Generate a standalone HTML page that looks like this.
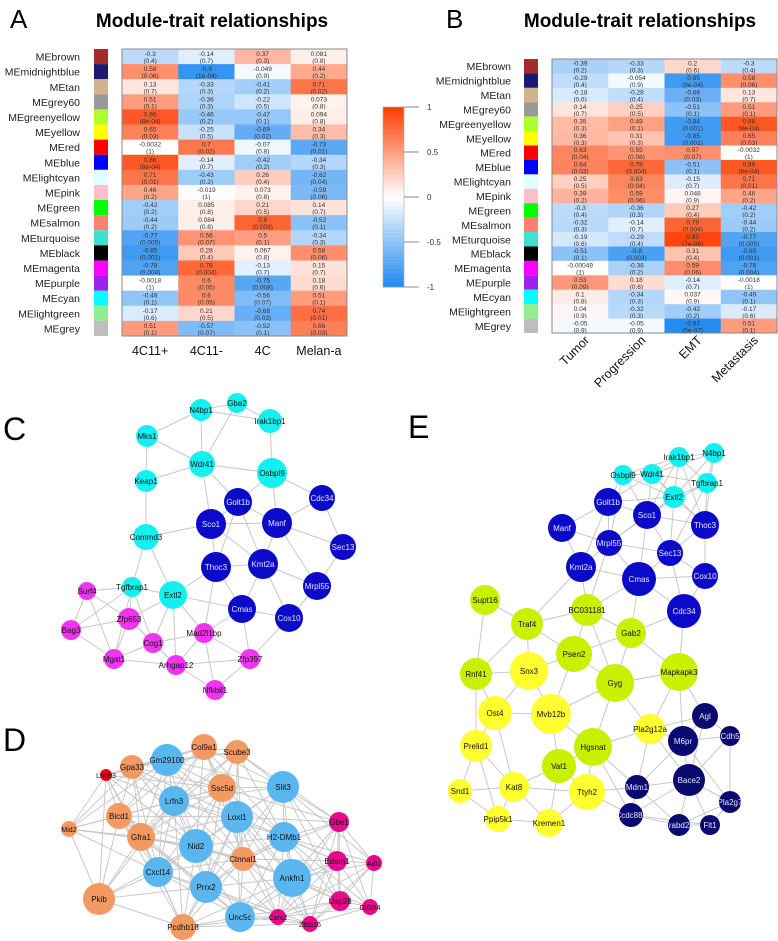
<!DOCTYPE html>
<html><head><meta charset="utf-8">
<style>
html,body{margin:0;padding:0;background:#fff;}
svg{display:block;font-family:"Liberation Sans",Arial,sans-serif;}
</style></head>
<body>
<svg id="fig" width="778" height="941" viewBox="0 0 778 941" xmlns="http://www.w3.org/2000/svg">
<text x="10" y="28" font-size="26">A</text>
<text x="212" y="27" font-size="19" font-weight="bold" text-anchor="middle">Module-trait relationships</text>
<text x="446" y="28" font-size="26">B</text>
<text x="640" y="27" font-size="19" font-weight="bold" text-anchor="middle">Module-trait relationships</text>
<text x="3" y="440" font-size="32">C</text>
<text x="3" y="751" font-size="32">D</text>
<text x="408" y="438" font-size="32">E</text>
<g id="gA"></g>
<g id="gB"></g>
<g id="gBar"></g>
<g id="gC"></g>
<g id="gD"></g>
<g id="gE"></g>
</svg>
<script>
const modules=["MEbrown","MEmidnightblue","MEtan","MEgrey60","MEgreenyellow","MEyellow","MEred","MEblue","MElightcyan","MEpink","MEgreen","MEsalmon","MEturquoise","MEblack","MEmagenta","MEpurple","MEcyan","MElightgreen","MEgrey"];
const moduleColors=["#a52a2a","#191970","#d2b48c","#999999","#adff2f","#ffff00","#ff0000","#0000ff","#e0ffff","#ffc0cb","#00ff00","#fa8072","#40e0d0","#000000","#ff00ff","#a020f0","#00ffff","#90ee90","#bebebe"];
const traitsA=["4C11+","4C11-","4C","Melan-a"];
const corrA=[[-0.3,-0.14,0.37,0.081],[0.58,-0.9,-0.049,0.44],[0.13,-0.33,-0.41,0.71],[0.51,-0.36,-0.22,0.073],[0.86,-0.46,-0.47,0.094],[0.65,-0.25,-0.69,0.34],[-0.0032,0.7,-0.07,-0.73],[0.86,-0.14,-0.42,-0.34],[0.71,-0.43,0.26,-0.62],[0.46,-0.019,0.073,-0.59],[-0.42,0.085,0.21,0.14],[-0.44,0.084,0.8,-0.52],[-0.77,0.56,0.5,-0.34],[-0.85,0.28,0.067,0.58],[-0.78,0.78,-0.13,0.15],[-0.0018,0.6,-0.75,0.18],[-0.49,0.6,-0.56,0.51],[-0.17,0.21,-0.68,0.74],[0.51,-0.57,-0.52,0.66]];
const pA=[["0.4","0.7","0.3","0.8"],["0.06","1e-04","0.9","0.2"],["0.7","0.3","0.2","0.02"],["0.1","0.3","0.5","0.8"],["8e-04","0.2","0.1","0.8"],["0.03","0.5","0.02","0.3"],["1","0.02","0.8","0.01"],["8e-04","0.7","0.2","0.3"],["0.01","0.2","0.4","0.04"],["0.2","1","0.8","0.06"],["0.2","0.8","0.5","0.7"],["0.2","0.8","0.003","0.1"],["0.005","0.07","0.1","0.3"],["0.001","0.4","0.8","0.06"],["0.004","0.004","0.7","0.7"],["1","0.05","0.008","0.6"],["0.1","0.05","0.07","0.1"],["0.6","0.5","0.03","0.01"],["0.1","0.07","0.1","0.03"]];
const traitsB=["Tumor","Progression","EMT","Metastasis"];
const corrB=[[-0.39,-0.33,0.2,-0.3],[-0.29,-0.054,-0.85,0.58],[-0.18,-0.28,-0.66,0.13],[0.14,0.25,-0.51,0.51],[0.35,0.49,-0.84,0.86],[0.36,0.31,-0.85,0.65],[0.63,0.55,0.57,-0.0032],[0.64,0.78,-0.51,0.86],[0.25,0.63,-0.15,0.71],[0.39,0.59,0.048,0.46],[-0.3,-0.36,0.27,-0.42],[-0.32,-0.14,0.79,-0.44],[-0.19,-0.29,0.95,-0.77],[-0.51,-0.8,0.31,-0.85],[-0.00049,-0.38,0.59,-0.78],[0.53,0.18,-0.14,-0.0018],[0.1,-0.34,0.037,-0.49],[0.04,-0.32,-0.42,-0.17],[-0.05,-0.05,-0.97,0.51]];
const pB=[["0.2","0.3","0.6","0.4"],["0.4","0.9","9e-04","0.06"],["0.6","0.4","0.03","0.7"],["0.7","0.5","0.1","0.1"],["0.3","0.1","0.001","8e-04"],["0.3","0.3","0.001","0.03"],["0.04","0.08","0.07","1"],["0.03","0.004","0.1","8e-04"],["0.5","0.04","0.7","0.01"],["0.2","0.06","0.9","0.2"],["0.4","0.3","0.4","0.2"],["0.3","0.7","0.004","0.2"],["0.6","0.4","7e-06","0.005"],["0.1","0.003","0.4","0.001"],["1","0.2","0.06","0.004"],["0.09","0.6","0.7","1"],["0.8","0.3","0.9","0.1"],["0.9","0.3","0.2","0.6"],["0.9","0.9","5e-07","0.1"]];
const scaleTicks=[1,0.5,0,-0.5,-1];

const NS="http://www.w3.org/2000/svg";
function mk(tag,attrs,parent){const e=document.createElementNS(NS,tag);for(const k in attrs)e.setAttribute(k,attrs[k]);if(parent)parent.appendChild(e);return e;}
function color(v){
  const lo=[30,136,240],hi=[255,61,0];
  const t=Math.min(1,Math.abs(v));const c=v<0?lo:hi;
  const r=Math.round(255+(c[0]-255)*t),g=Math.round(255+(c[1]-255)*t),b=Math.round(255+(c[2]-255)*t);
  return `rgb(${r},${g},${b})`;
}
function heat(g,opt,corr,pv,traits){
  const n=modules.length,rh=(opt.y1-opt.y0)/n,cw=(opt.x1-opt.x0)/traits.length;
  const yS=i=>opt.y0+i*rh, xS=j=>opt.x0+j*cw;
  modules.forEach((m,i)=>{
    const t=mk('text',{x:opt.lx,y:yS(i)+rh/2+4,'font-size':10.5,'text-anchor':'end',fill:'#222'},g);t.textContent=m;
    
    
    const s=mk('rect',{x:opt.sx,y:yS(i),width:14,height:rh,fill:moduleColors[i]},g);
    
    
    traits.forEach((tr,j)=>{
      const v=corr[i][j];
      const r=mk('rect',{x:xS(j),y:yS(i),width:cw+0.3,height:rh+0.3,fill:color(v)},g);
      
      
      const t1=mk('text',{x:xS(j)+cw/2,y:yS(i)+rh/2-0.5,'font-size':6.5,'text-anchor':'middle',fill:'#333'},g);t1.textContent=String(v);
      
      
      const t2=mk('text',{x:xS(j)+cw/2,y:yS(i)+rh/2+6.5,'font-size':6.5,'text-anchor':'middle',fill:'#333'},g);t2.textContent='('+pv[i][j]+')';
      
      
    });
  });
  mk('rect',{x:opt.x0,y:opt.y0,width:opt.x1-opt.x0,height:opt.y1-opt.y0,fill:'none',stroke:'#888','stroke-width':1},g);
  traits.forEach((tr,j)=>{
    let t;
    if(opt.rot){
      const cx=xS(j)+cw/2+10,cy=opt.y1+8;
      t=mk('text',{x:cx,y:cy,'font-size':12.5,'text-anchor':'end',transform:`rotate(-45 ${cx} ${cy})`,fill:'#111'},g);
    } else {
      t=mk('text',{x:xS(j)+cw/2,y:opt.y1+19,'font-size':12.5,'text-anchor':'middle',fill:'#111'},g);
    }
    t.textContent=tr;
    
    
  });
}
heat(document.getElementById('gA'),{x0:122,x1:347,y0:49,y1:336,lx:80,sx:94},corrA,pA,traitsA);
heat(document.getElementById('gB'),{x0:552,x1:777,y0:59,y1:333,lx:511,sx:524,rot:true},corrB,pB,traitsB);

(function(){
  const g=document.getElementById('gBar');const top=107,bot=287,x=383,w=21;
  const yS=v=>top+(1-v)*(bot-top)/2;
  for(let k=0;k<40;k++){const v=1-k*2/40-1/40;const r=mk('rect',{x:x,y:yS(v+1/40),width:w,height:(bot-top)/40+0.5,fill:color(v)},g);
    
    }
  mk('rect',{x:x,y:top,width:w,height:bot-top,fill:'none',stroke:'#aaa','stroke-width':0.6},g);
  scaleTicks.forEach(v=>{mk('line',{x1:x+w,x2:x+w+15,y1:yS(v),y2:yS(v),stroke:'#888'},g);
    const t=mk('text',{x:427,y:yS(v)+3,'font-size':8,fill:'#333'},g);t.textContent=String(v);
    
    });
})();

const CY='#14f0f0',BL='#0a0ac8',MG='#f035f0',LB='#5ab6ee',OR='#f29a62',PK='#e8098a',RD='#e8001a',LM='#c8f000',YL='#ffff30',NV='#0a0a6e';
const nodesC=[["Gba2",237,403,10,CY],["N4bp1",201,410,11,CY],["Irak1bp1",270,421,12,CY],["Mks1",147,436,11,CY],["Wdr41",202,464,13,CY],["Osbpl9",272,473,15,CY],["Keap1",146,481,11,CY],["Golt1b",238,502,14,BL],["Cdc34",322,498,13,BL],["Sco1",211,524,15,BL],["Manf",277,523,15,BL],["Commd3",146,537,13,CY],["Sec13",343,547,13,BL],["Thoc3",216,567,15,BL],["Kmt2a",263,564,15,BL],["Mrpl55",317,586,14,BL],["Tgfbrap1",132,587,10,CY],["Extl2",173,595,14,CY],["Cmas",242,609,14,BL],["Cox10",289,618,14,BL],["Surf4",87,591,9,MG],["Zfp653",129,619,11,MG],["Bag3",71,630,10,MG],["Cog1",153,643,10,MG],["Mad2l1bp",204,633,10,MG],["Mgat1",114,659,10,MG],["Arhgap12",176,665,10,MG],["Zfp397",250,659,10,MG],["Nfkbil1",215,690,10,MG]];
const nodesD=[["Col9a1",204,747,13,OR],["Scube3",237,752,12,OR],["Gm29100",167,760,16,LB],["Gpa33",132,767,12,OR],["Lrrch3",106,775,6,RD],["Ssc5d",222,788,14,OR],["Slit3",283,787,16,LB],["Lrfn3",174,801,15,LB],["Bicd1",119,816,13,OR],["Loxl1",237,817,16,LB],["Gbe1",339,822,10,PK],["Mid2",69,829,8,OR],["Gfra1",141,837,14,OR],["H2-DMb1",284,837,15,LB],["Nid2",196,846,17,LB],["Ctnnal1",243,859,12,OR],["Edem1",337,861,10,PK],["Adi1",374,863,8,PK],["Cxcl14",158,872,15,LB],["Ankfn1",292,878,19,LB],["Prrx2",206,887,16,LB],["Pkib",99,899,16,OR],["Usp28",340,901,10,PK],["Gtf2h4",370,907,8,PK],["Unc5c",240,917,15,LB],["Cars2",278,917,8,PK],["Zbtb16",310,924,8,PK],["Pcdhb18",183,927,13,OR]];
const nodesE=[["Irak1bp1",679,457,10,CY],["N4bp1",714,453,10,CY],["Osbpl9",623,475,10,CY],["Wdr41",652,474,10,CY],["Tgfbrap1",707,483,10,CY],["Extl2",674,497,11,CY],["Golt1b",608,502,14,BL],["Sco1",647,515,14,BL],["Thoc3",705,525,14,BL],["Manf",562,528,14,BL],["Mrpl55",609,543,13,BL],["Sec13",670,553,13,BL],["Kmt2a",581,567,15,BL],["Cmas",639,579,17,BL],["Cox10",705,576,13,BL],["Supt16",485,600,15,LM],["Cdc34",684,611,17,BL],["BC031181",587,610,16,LM],["Traf4",527,624,16,LM],["Gab2",631,633,15,LM],["Psen2",574,654,18,LM],["Rnf41",476,674,16,LM],["Snx3",529,671,19,YL],["Mapkapk3",679,672,19,LM],["Gyg",615,683,19,LM],["Ost4",495,713,17,YL],["Mvb12b",551,714,20,YL],["Pla2g12a",650,729,15,YL],["Agl",705,716,13,NV],["Cdh5",730,736,10,NV],["M6pr",683,741,15,NV],["Prelid1",476,746,16,YL],["Hgsnat",593,747,19,LM],["Vat1",559,766,17,LM],["Bace2",689,780,16,NV],["Mdm1",637,787,12,NV],["Snd1",460,791,12,YL],["Kat8",514,787,15,YL],["Ttyh2",587,792,18,YL],["Pla2g7",730,802,11,NV],["Ccdc88c",631,815,12,NV],["Ppip5k1",498,819,13,YL],["Kremen1",549,823,14,YL],["Trabd2b",679,825,11,NV],["Flt1",710,825,10,NV]];
const darkFill=[BL,NV];
function network(g,nodes,thr){
  const eg=mk('g',{},g);
  for(let i=0;i<nodes.length;i++)for(let j=i+1;j<nodes.length;j++){
    const a=nodes[i],b=nodes[j];const d=Math.hypot(a[1]-b[1],a[2]-b[2]);
    if(d<thr){const l=mk('line',{x1:a[1],y1:a[2],x2:b[1],y2:b[2],stroke:'#c8c8c8','stroke-width':1},eg);
      
      }
  }
  nodes.forEach(n=>{
    const c=mk('circle',{cx:n[1],cy:n[2],r:n[3],fill:n[4]},g);
    
    
    const t=mk('text',{x:n[1],y:n[2]+3,'font-size':n[3]<9?7:8,'text-anchor':'middle',fill:darkFill.includes(n[4])?'#e6e6ff':'#111'},g);
    t.textContent=n[0];
    
    
  });
}
network(document.getElementById('gC'),nodesC,75);
network(document.getElementById('gD'),nodesD,130);
network(document.getElementById('gE'),nodesE,80);
</script>
</body></html>
